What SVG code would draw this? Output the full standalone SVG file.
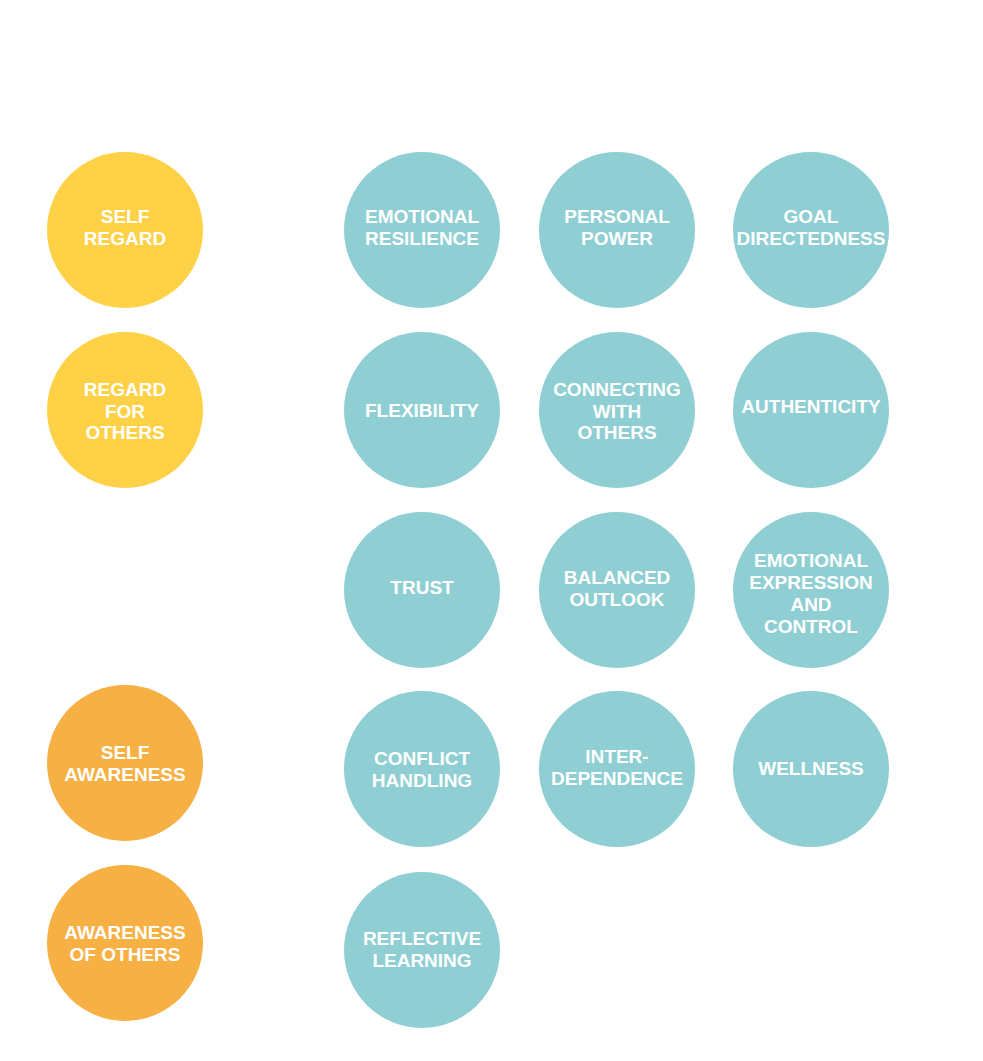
<svg xmlns="http://www.w3.org/2000/svg" width="983" height="1061" viewBox="0 0 983 1061">
<style>
.y{fill:#FED146}
.o{fill:#F6B044}
.t{fill:#8FCFD3}
text{font-family:"Liberation Sans",Arial,sans-serif;font-weight:bold;font-size:19px;fill:#FFFFFF;text-anchor:middle}
</style>
<rect width="983" height="1061" fill="#FFFFFF"/>
<g id="self-regard"><circle class="y" cx="125" cy="230" r="78"/><text x="125" y="223">SELF</text><text x="125" y="245">REGARD</text></g>
<g id="regard-for-others"><circle class="y" cx="125" cy="410" r="78"/><text x="125" y="396">REGARD</text><text x="125" y="418">FOR</text><text x="125" y="439">OTHERS</text></g>
<g id="self-awareness"><circle class="o" cx="125" cy="763" r="78"/><text x="125" y="759">SELF</text><text x="125" y="781">AWARENESS</text></g>
<g id="awareness-of-others"><circle class="o" cx="125" cy="943" r="78"/><text x="125" y="939">AWARENESS</text><text x="125" y="961">OF OTHERS</text></g>

<g id="emotional-resilience"><circle class="t" cx="422" cy="230" r="78"/><text x="422" y="223">EMOTIONAL</text><text x="422" y="245">RESILIENCE</text></g>
<g id="personal-power"><circle class="t" cx="617" cy="230" r="78"/><text x="617" y="223">PERSONAL</text><text x="617" y="245">POWER</text></g>
<g id="goal-directedness"><circle class="t" cx="811" cy="230" r="78"/><text x="811" y="223">GOAL</text><text x="811" y="245">DIRECTEDNESS</text></g>

<g id="flexibility"><circle class="t" cx="422" cy="410" r="78"/><text x="422" y="417">FLEXIBILITY</text></g>
<g id="connecting-with-others"><circle class="t" cx="617" cy="410" r="78"/><text x="617" y="396">CONNECTING</text><text x="617" y="418">WITH</text><text x="617" y="439">OTHERS</text></g>
<g id="authenticity"><circle class="t" cx="811" cy="410" r="78"/><text x="811" y="413">AUTHENTICITY</text></g>

<g id="trust"><circle class="t" cx="422" cy="590" r="78"/><text x="422" y="594">TRUST</text></g>
<g id="balanced-outlook"><circle class="t" cx="617" cy="590" r="78"/><text x="617" y="584">BALANCED</text><text x="617" y="606">OUTLOOK</text></g>
<g id="emotional-expression"><circle class="t" cx="811" cy="590" r="78"/><text x="811" y="567">EMOTIONAL</text><text x="811" y="589">EXPRESSION</text><text x="811" y="611">AND</text><text x="811" y="633">CONTROL</text></g>

<g id="conflict-handling"><circle class="t" cx="422" cy="769" r="78"/><text x="422" y="765">CONFLICT</text><text x="422" y="787">HANDLING</text></g>
<g id="interdependence"><circle class="t" cx="617" cy="769" r="78"/><text x="617" y="763">INTER-</text><text x="617" y="785">DEPENDENCE</text></g>
<g id="wellness"><circle class="t" cx="811" cy="769" r="78"/><text x="811" y="775">WELLNESS</text></g>

<g id="reflective-learning"><circle class="t" cx="422" cy="950" r="78"/><text x="422" y="945">REFLECTIVE</text><text x="422" y="967">LEARNING</text></g>
<g id="connectors"></g>
</svg>
